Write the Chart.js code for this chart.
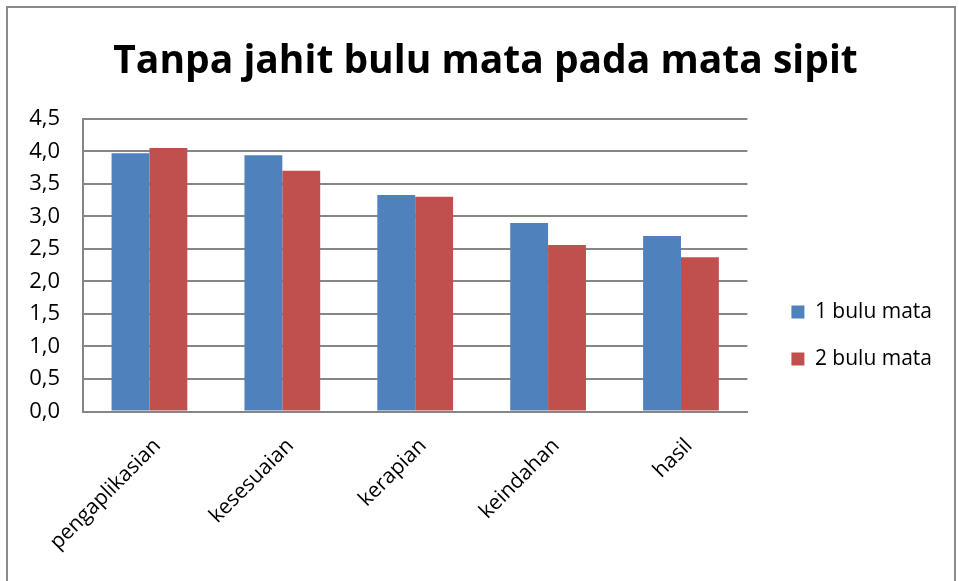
<!DOCTYPE html>
<html>
<head>
<meta charset="utf-8">
<script src="https://cdn.jsdelivr.net/npm/chart.js@4"></script>
<style>
  html, body { margin: 0; padding: 0; background: #fff; }
  #wrap { position: relative; width: 959px; height: 581px; }
  #frame { position: absolute; left: 6px; top: 6px; width: 946px; height: 600px; border: 2px solid #8a8a8a; pointer-events: none; }
</style>
</head>
<body>
<div id="wrap">
  <canvas id="grafico" width="959" height="581"></canvas>
  <div id="frame"></div>
</div>
<script>
// Datos del grafico
const kategori = ['pengaplikasian', 'kesesuaian', 'kerapian', 'keindahan', 'hasil'];
const satuBulu = [3.97, 3.94, 3.33, 2.90, 2.70];
const duaBulu = [4.05, 3.70, 3.30, 2.56, 2.37];
const judul = 'Tanpa jahit bulu mata pada mata sipit';

const fuente = "'Open Sans', 'Noto Sans', sans-serif";
const hueco = 18; // espacio extra entre el grafico y la leyenda

// Ensancha la leyenda y corre sus items a la derecha
const empujeLeyenda = {
    id: 'empujeLeyenda',
    beforeLayout(chart) {
        const lg = chart.legend;
        if (lg && !lg._parche) {
            const fit = lg.fit;
            lg.fit = function () { fit.call(this); this.width += hueco; };
            lg._parche = true;
        }
    },
    afterLayout(chart) {
        chart.legend.left += hueco;
    }
};

const ctx = document.getElementById('grafico').getContext('2d');
const grafico = new Chart(ctx, {
    type: 'bar',
    data: {
        labels: kategori,
        datasets: [{
            label: '1 bulu mata',
            data: satuBulu,
            backgroundColor: '#4F81BD',
            categoryPercentage: 0.57,
            barPercentage: 1.0
        }, {
            label: '2 bulu mata',
            data: duaBulu,
            backgroundColor: '#C0504D',
            categoryPercentage: 0.57,
            barPercentage: 1.0
        }]
    },
    options: {
        responsive: false,
        animation: false,
        layout: { padding: { left: 29, right: 17, top: 30, bottom: 12 } },
        plugins: {
            title: {
                display: true,
                text: judul,
                color: '#000',
                font: { family: fuente, size: 39, weight: 'bold' },
                padding: { top: 8, bottom: 34 }
            },
            legend: {
                position: 'right',
                title: {
                    // espacio vacio para bajar la leyenda
                    display: true,
                    text: ' ',
                    font: { family: fuente, size: 21 },
                    padding: { top: 28, bottom: 19 }
                },
                labels: {
                    color: '#000',
                    font: { family: fuente, size: 21 },
                    boxWidth: 13,
                    boxHeight: 13,
                    padding: 26
                }
            },
            tooltip: { enabled: false }
        },
        scales: {
            x: {
                grid: { display: false },
                border: { color: '#868686', width: 2 },
                ticks: {
                    color: '#000',
                    font: { family: fuente, size: 21 },
                    minRotation: 45,
                    maxRotation: 45,
                    labelOffset: 8,
                    padding: 14
                },
                // las etiquetas pueden salir del area a la izquierda
                afterFit: s => { s.paddingLeft = 0; s.paddingRight = 0; }
            },
            y: {
                min: 0,
                max: 4.5,
                grid: { color: '#868686', lineWidth: 2, drawTicks: false },
                border: { color: '#868686', width: 2 },
                ticks: {
                    stepSize: 0.5,
                    color: '#000',
                    padding: 23,
                    font: { family: fuente, size: 22 },
                    callback: v => v.toFixed(1).replace('.', ',')
                },
                afterFit: s => { s.width = 54; }
            }
        }
    },
    plugins: [empujeLeyenda]
});
</script>
</body>
</html>
